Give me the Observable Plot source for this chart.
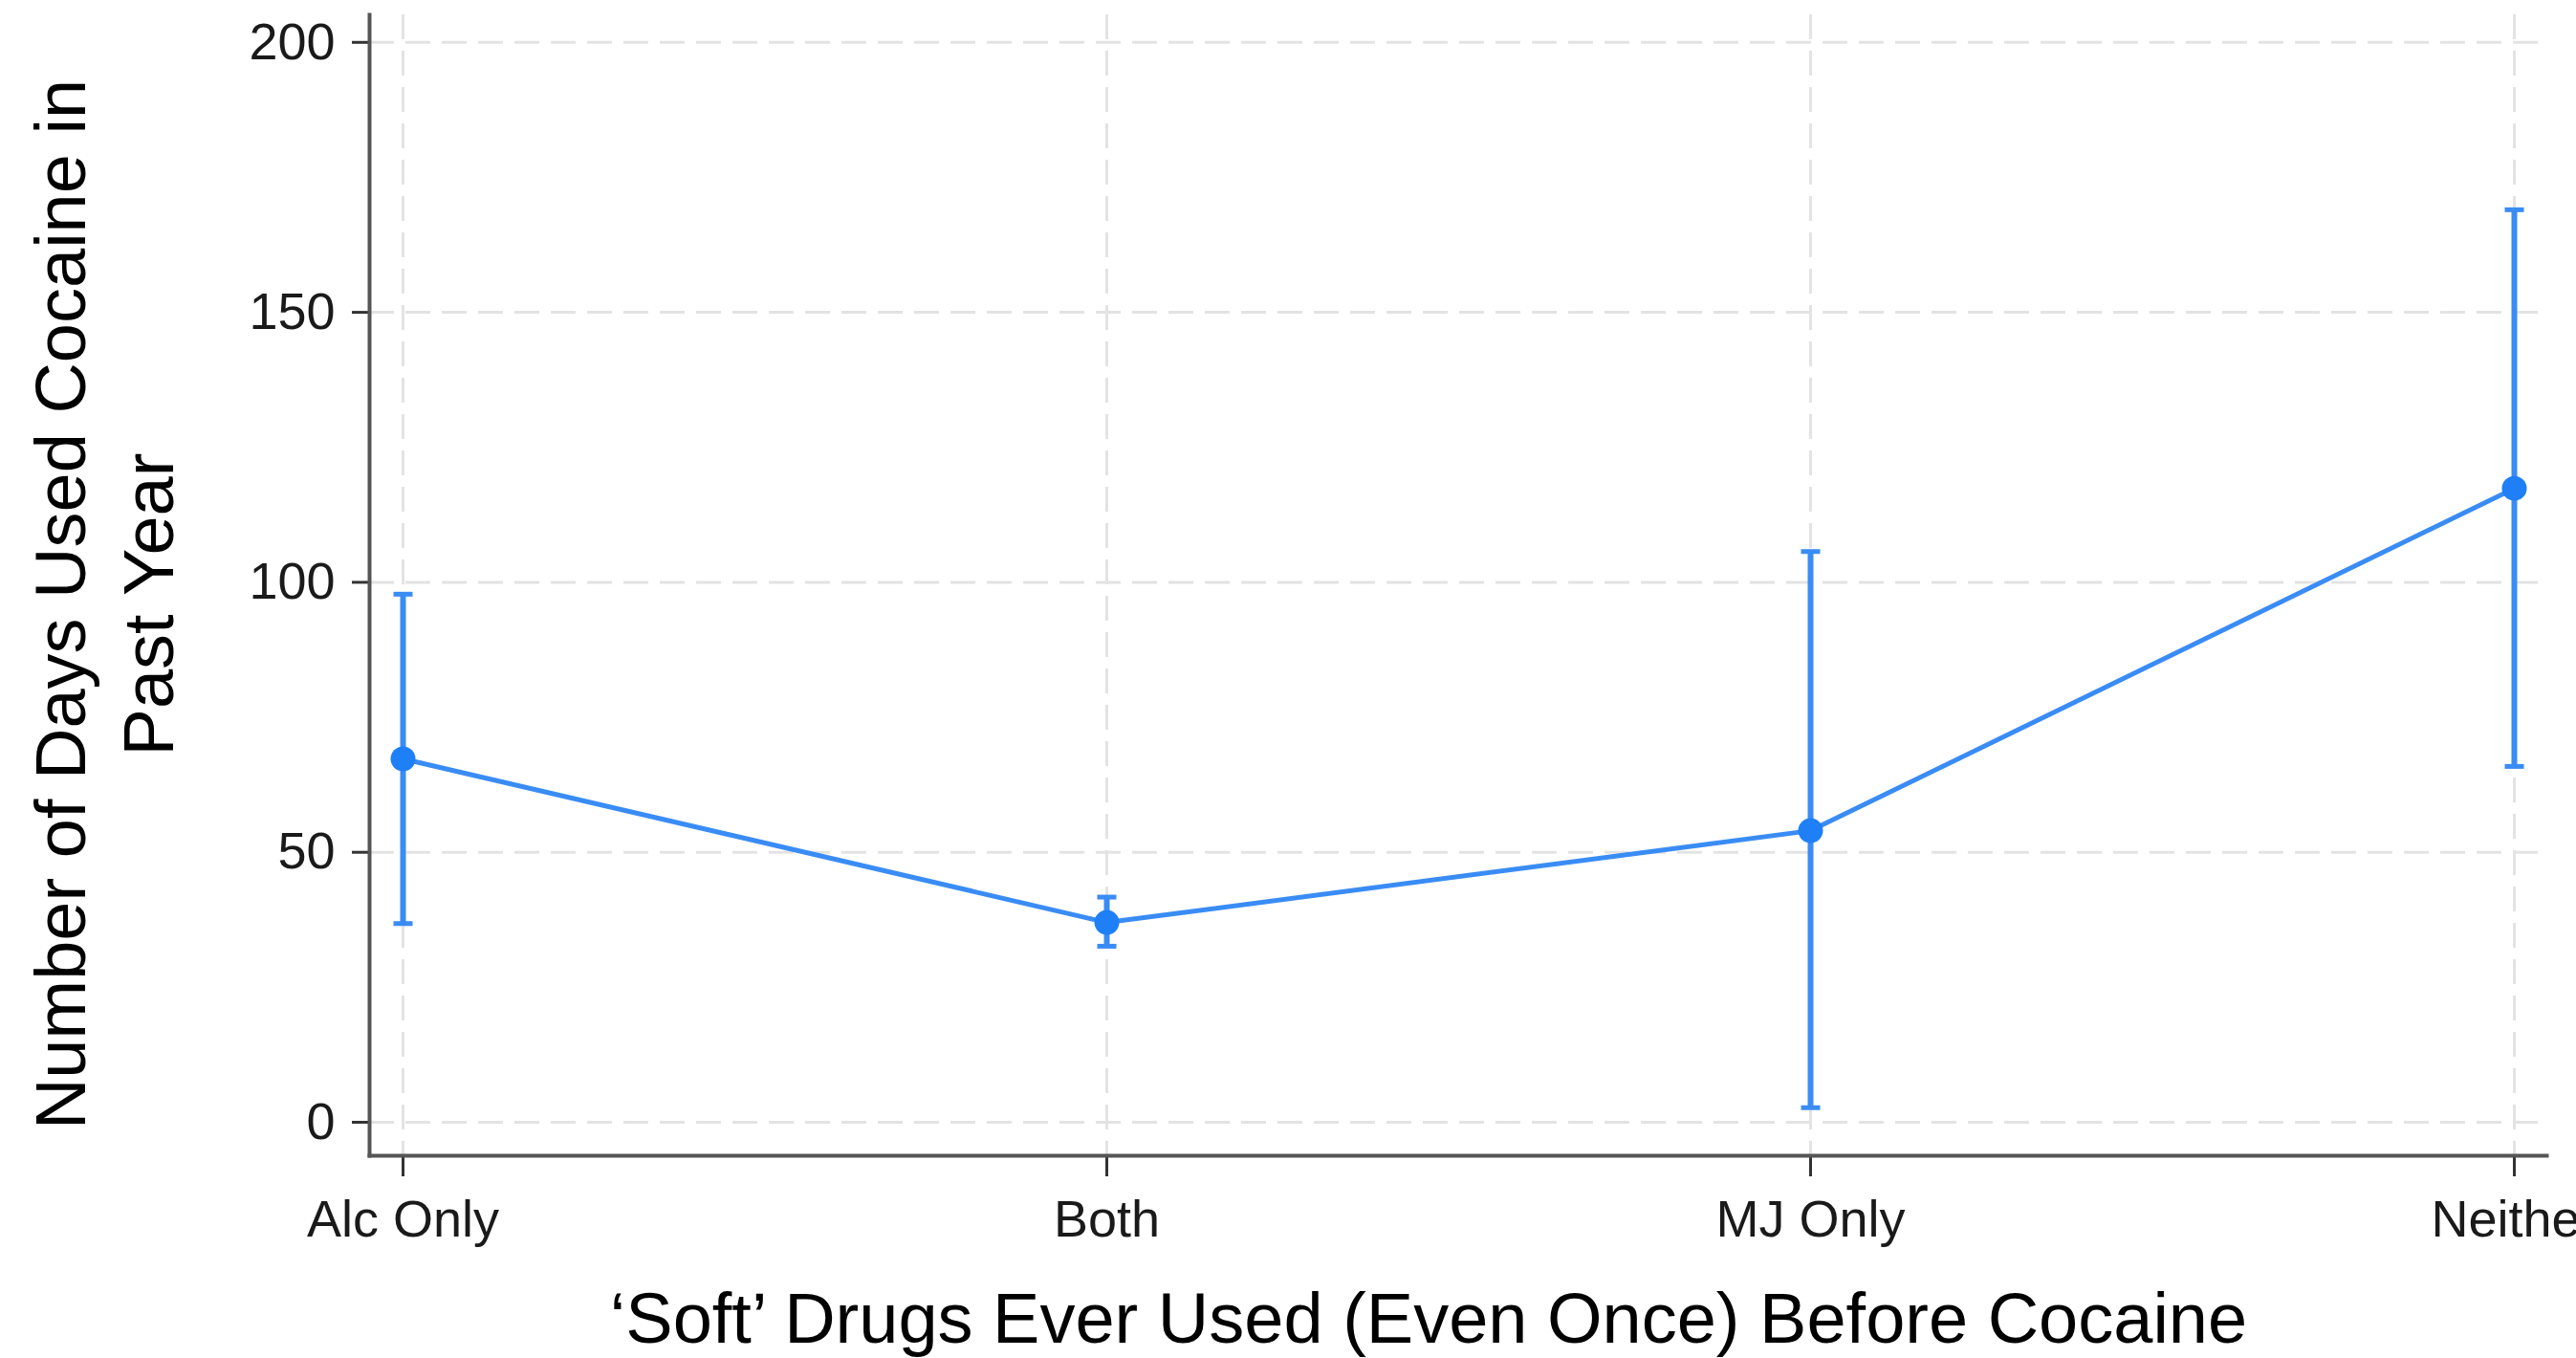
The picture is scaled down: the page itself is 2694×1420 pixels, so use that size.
<!DOCTYPE html>
<html><head><meta charset="utf-8">
<script src="https://cdn.jsdelivr.net/npm/d3@7"></script>
<script src="https://cdn.jsdelivr.net/npm/@observablehq/plot@0.6"></script>
<style>html,body{margin:0;padding:0;background:#fff;overflow:hidden}</style>
</head><body><div id="chart"></div>
<script>
const categories = ["Alc Only", "Both", "MJ Only", "Neither"];
const means = [67.3, 37.0, 54.0, 117.4];
const lower = [36.8, 32.6, 2.7, 65.9];
const upper = [97.8, 41.7, 105.7, 169.0];
const yTicks = [0, 50, 100, 150, 200];
const xTitle = "‘Soft’ Drugs Ever Used (Even Once) Before Cocaine";
const yTitle = "Number of Days Used Cocaine in\nPast Year";

const data = categories.map((c, i) => ({cat: c, mean: means[i], lo: lower[i], hi: upper[i]}));
const blueDot = "#1f7ff7";
const blueLine = "#3a8cf5";
const capSymbol = {draw(ctx, size) { const w = Math.sqrt(size / Math.PI); ctx.moveTo(-w, 0); ctx.lineTo(w, 0); }};
const gridStyle = {stroke: "#e3e3e3", strokeOpacity: 1, strokeWidth: 3, strokeDasharray: "26,12"};

const chart = Plot.plot({
  width: 2694, height: 1420,
  marginTop: 15, marginBottom: 212, marginLeft: 386, marginRight: 31,
  style: {fontFamily: "'Liberation Sans', Arial, Helvetica, sans-serif", background: "#fff", color: "#1a1a1a"},
  x: {type: "point", domain: categories, padding: 0.045},
  y: {domain: [-6.2, 205.1]},
  marks: [
    Plot.gridY(yTicks, gridStyle),
    Plot.gridX(categories, gridStyle),
    Plot.axisY(yTicks, {tickSize: 18, tickPadding: 18, fontSize: 54, label: null, stroke: "#333", strokeWidth: 3}),
    Plot.axisX(categories, {tickSize: 22, tickPadding: 24, fontSize: 54, label: null, stroke: "#333", strokeWidth: 3}),
    Plot.frame({anchor: "left", stroke: "#555", strokeWidth: 4}),
    Plot.frame({anchor: "bottom", stroke: "#555", strokeWidth: 4}),
    Plot.ruleX(data, {x: "cat", y1: "lo", y2: "hi", stroke: blueLine, strokeWidth: 6}),
    Plot.dot(data, {x: "cat", y: "lo", symbol: capSymbol, r: 10, stroke: blueLine, strokeWidth: 5, fill: "none"}),
    Plot.dot(data, {x: "cat", y: "hi", symbol: capSymbol, r: 10, stroke: blueLine, strokeWidth: 5, fill: "none"}),
    Plot.line(data, {x: "cat", y: "mean", stroke: blueLine, strokeWidth: 5}),
    Plot.dot(data, {x: "cat", y: "mean", r: 13, fill: blueDot, stroke: "none"}),
    Plot.text([xTitle], {text: d => d, frameAnchor: "bottom", dx: -31, dy: 172, fontSize: 74, fill: "#000", lineAnchor: "middle"}),
    Plot.text([yTitle], {text: d => d, frameAnchor: "left", textAnchor: "middle", rotate: -90, dx: -281, dy: 20, fontSize: 74, lineHeight: 1.24, fill: "#000", lineAnchor: "middle"})
  ]
});
document.getElementById("chart").appendChild(chart);
</script>
</body></html>
